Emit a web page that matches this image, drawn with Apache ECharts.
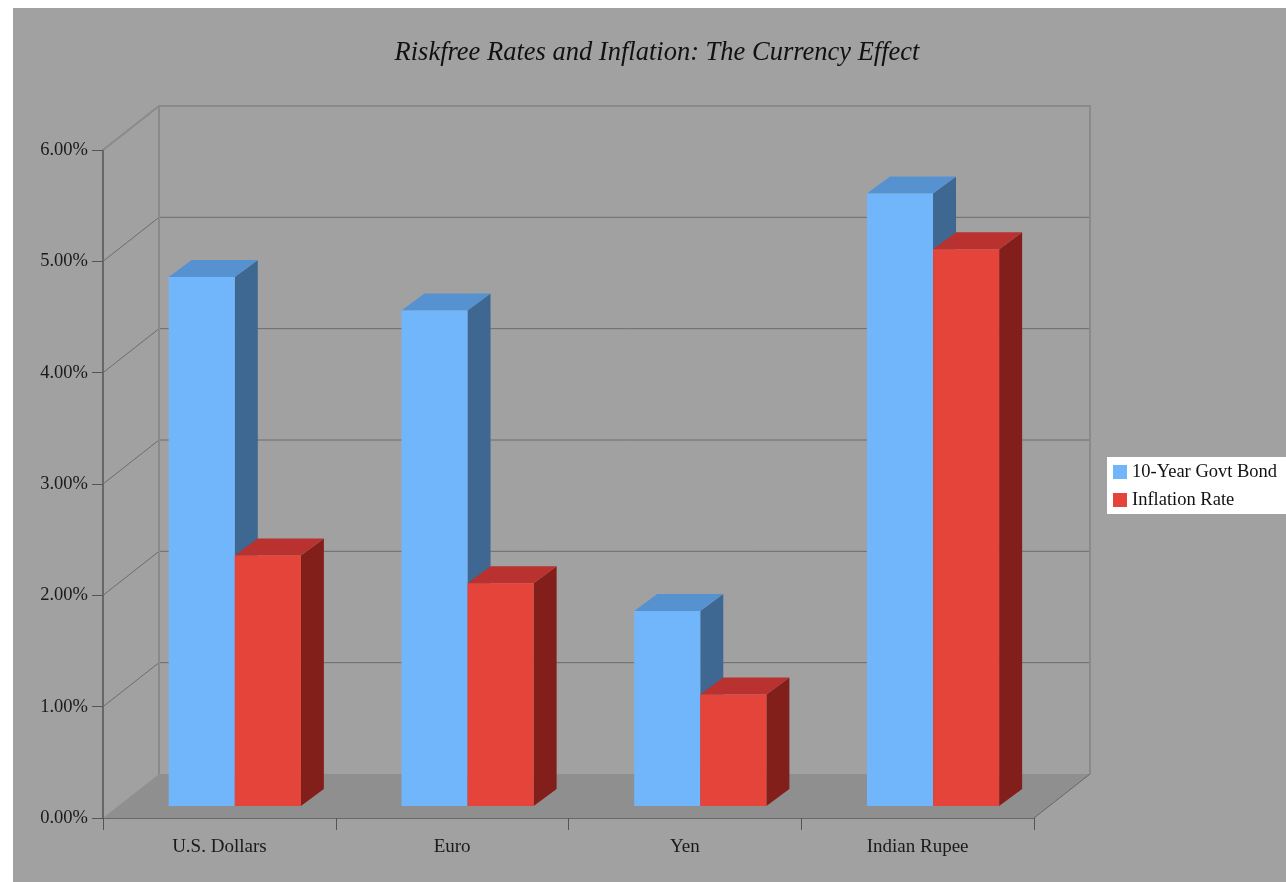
<!DOCTYPE html>
<html>
<head>
<meta charset="utf-8">
<title>Riskfree Rates and Inflation</title>
<script src="https://cdn.jsdelivr.net/npm/echarts@6/dist/echarts.min.js"></script>
<style>
  html, body { margin: 0; padding: 0; background: #fff; }
  #chart {
    position: absolute; left: 0; top: 0; width: 1286px; height: 882px;
    background: linear-gradient(#a1a1a1, #a1a1a1) 13px 8px / 1273px 874px no-repeat, #fff;
  }
</style>
</head>
<body>
<div id="chart"></div>
<script>
// Currencies and their rates (percent)
const categories = ['U.S. Dollars', 'Euro', 'Yen', 'Indian Rupee'];
const govtBond = [4.75, 4.45, 1.75, 5.5];
const inflation = [2.25, 2.0, 1.0, 5.0];
const yTicks = [0, 1, 2, 3, 4, 5, 6];
const seriesNames = ['10-Year Govt Bond', 'Inflation Rate'];

// Oblique "3D" look: depth of the box, position and depth of the bars
const DEPTH = { dx: 56, dy: -44 };
const BAR_FRONT = 0.275;     // fraction of depth where bar front faces sit
const BAR_DEPTH = { dx: 23, dy: -17 };
const BAR_FRAC = 0.284;      // bar width as a share of the category band

const SERIF = '"Liberation Serif", "DejaVu Serif", serif';

const palette = [
  { front: '#71b5fb', top: '#5792d0', side: '#3e6791' },
  { front: '#e4443a', top: '#b9322f', side: '#831f1b' }
];

function renderFrame(params, api) {
  const cs = params.coordSys;
  const L = cs.x, R = cs.x + cs.width;
  const y0 = api.coord([0, yTicks[0]])[1];
  const yTop = api.coord([0, yTicks[yTicks.length - 1]])[1];
  const dx = DEPTH.dx, dy = DEPTH.dy;
  const children = [];
  // floor
  children.push({
    type: 'polygon',
    shape: { points: [[L, y0], [L + dx, y0 + dy], [R + dx, y0 + dy], [R, y0]] },
    style: { fill: '#8f8f8f' }
  });
  // gridlines on back wall and side wall
  yTicks.slice(1, -1).forEach(function (v) {
    const y = api.coord([0, v])[1];
    children.push({
      type: 'line',
      shape: { x1: L + dx, y1: y + dy, x2: R + dx, y2: y + dy },
      style: { stroke: '#6c6c6c', lineWidth: 1 }
    });
    children.push({
      type: 'line',
      shape: { x1: L, y1: y, x2: L + dx, y2: y + dy },
      style: { stroke: '#6c6c6c', lineWidth: 1 }
    });
  });
  // back wall frame and top of side wall
  children.push({
    type: 'polyline',
    shape: { points: [[L + dx, y0 + dy], [L + dx, yTop + dy], [R + dx, yTop + dy], [R + dx, y0 + dy]] },
    style: { stroke: '#8a8a8a', lineWidth: 2, fill: null }
  });
  children.push({
    type: 'line',
    shape: { x1: L, y1: yTop, x2: L + dx, y2: yTop + dy },
    style: { stroke: '#8a8a8a', lineWidth: 2 }
  });
  // right edge of floor
  children.push({
    type: 'line',
    shape: { x1: R, y1: y0, x2: R + dx, y2: y0 + dy },
    style: { stroke: '#666', lineWidth: 1 }
  });
  return { type: 'group', children: children };
}

function makeBarRenderer(sIdx) {
  return function (params, api) {
    const idx = api.value(0);
    const val = api.value(1);
    const top = api.coord([idx, val]);
    const base = api.coord([idx, 0]);
    const bw = api.size([1, 0])[0] * BAR_FRAC;
    const sx = DEPTH.dx * BAR_FRONT, sy = DEPTH.dy * BAR_FRONT;
    const x0 = top[0] + sx + (sIdx === 0 ? -bw : 0);
    const x1 = x0 + bw;
    const yT = top[1] + sy, yB = base[1] + sy;
    const ddx = BAR_DEPTH.dx, ddy = BAR_DEPTH.dy;
    const c = palette[sIdx];
    return {
      type: 'group',
      children: [
        { type: 'polygon', shape: { points: [[x1, yT], [x1 + ddx, yT + ddy], [x1 + ddx, yB + ddy], [x1, yB]] }, style: { fill: c.side } },
        { type: 'polygon', shape: { points: [[x0, yT], [x0 + ddx, yT + ddy], [x1 + ddx, yT + ddy], [x1, yT]] }, style: { fill: c.top } },
        { type: 'rect', shape: { x: x0, y: yT, width: bw, height: yB - yT }, style: { fill: c.front } }
      ]
    };
  };
}

const chart = echarts.init(document.getElementById('chart'), null, { renderer: 'canvas' });

chart.setOption({
  backgroundColor: 'transparent',
  animation: false,
  title: {
    text: 'Riskfree Rates and Inflation: The Currency Effect',
    left: 652, top: 35, textAlign: 'center',
    textStyle: { fontFamily: SERIF, fontStyle: 'italic', fontWeight: 'normal', fontSize: 26.5, color: '#111' }
  },
  legend: {
    orient: 'vertical',
    left: 1107, top: 457,
    backgroundColor: '#fff',
    padding: [5, 40, 4, 6],
    itemWidth: 14, itemHeight: 14, itemGap: 8,
    icon: 'rect',
    textStyle: { fontFamily: SERIF, fontSize: 18.5, lineHeight: 20, color: '#111' },
    data: seriesNames
  },
  grid: { left: 103, top: 150, width: 931, height: 668 },
  xAxis: {
    type: 'category',
    data: categories,
    boundaryGap: true,
    axisLine: { lineStyle: { color: '#555', width: 1.5 } },
    axisTick: { show: true, interval: 0, length: 12, lineStyle: { color: '#555' } },
    axisLabel: { fontFamily: SERIF, fontSize: 19, color: '#1a1a1a', margin: 20 },
    splitLine: { show: false }
  },
  yAxis: {
    type: 'value',
    min: yTicks[0], max: yTicks[yTicks.length - 1], interval: 1,
    axisLine: { show: true, lineStyle: { color: '#555', width: 1.5 } },
    axisTick: { show: true, length: 11, lineStyle: { color: '#555' } },
    axisLabel: {
      fontFamily: SERIF, fontSize: 18.5, color: '#1a1a1a', margin: 15,
      formatter: function (v) { return v.toFixed(2) + '%'; }
    },
    splitLine: { show: false }
  },
  series: [
    {
      type: 'custom', name: '__frame', silent: true, z: 1,
      renderItem: renderFrame, data: [[0, 0]], legendHoverLink: false
    },
    {
      type: 'custom', name: seriesNames[0], z: 3,
      itemStyle: { color: palette[0].front },
      renderItem: makeBarRenderer(0),
      data: govtBond.map(function (v, i) { return [i, v]; })
    },
    {
      type: 'custom', name: seriesNames[1], z: 3,
      itemStyle: { color: palette[1].front },
      renderItem: makeBarRenderer(1),
      data: inflation.map(function (v, i) { return [i, v]; })
    }
  ]
});
</script>
</body>
</html>
